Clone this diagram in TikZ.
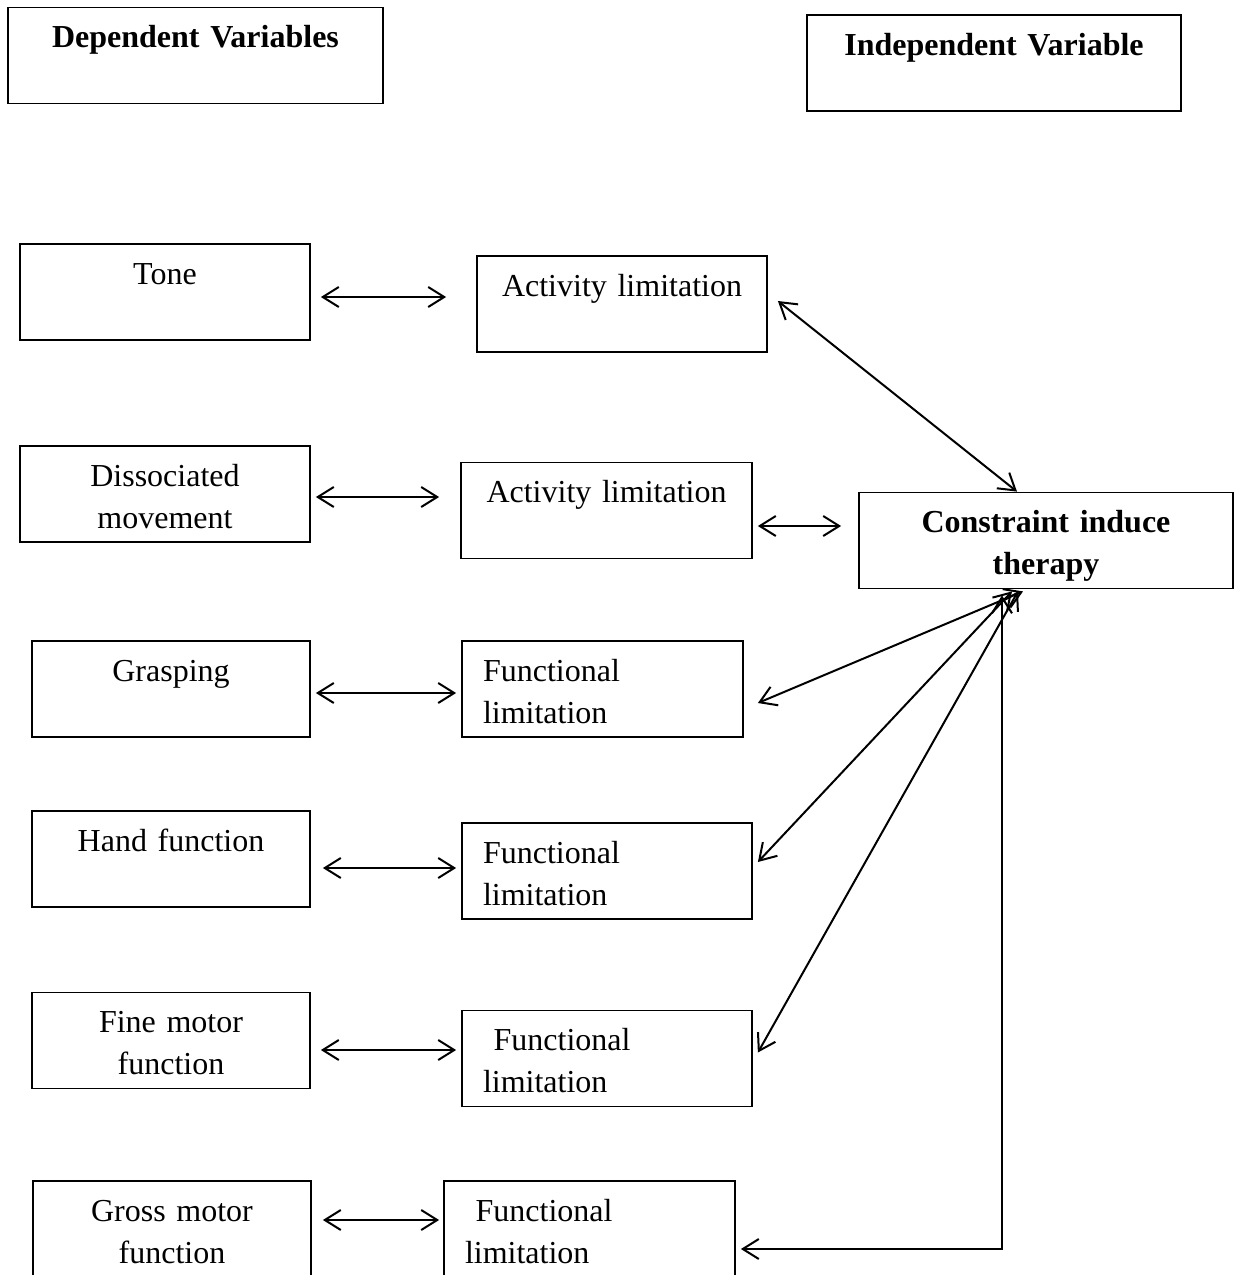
\documentclass[tikz,border=0pt]{standalone}
\usepackage{fontspec}
\setmainfont{Liberation Serif}
\usetikzlibrary{
  arrows.meta,
  calc
}
\newcommand{\boxFont}{\fontsize{16}{21}\selectfont}
\tikzset{
  box/.style={
    draw,
    line width=0.9pt,
    inner sep=0pt,
    text width=#1,
    align=center,
    text height=20pt,
    text depth=28pt,
    font=\boxFont
  }
}
\tikzset{
  headBox/.style={
    box=#1,
    font=\boxFont\bfseries
  }
}
\tikzset{
  limitBox/.style={
    box=#1,
    align=left,
    inner xsep=10.5pt
  }
}
\tikzset{
  link/.style={
    <->,
    line width=1pt
  }
}

\begin{document}
\begin{tikzpicture}[x=0.5pt, y=-0.5pt, >={Straight Barb[length=8pt,width=10pt]}]
    \useasboundingbox (0,0) rectangle (1242,1275);
    % headings
    \node[headBox=187.5pt] (dep) at (195.5,55.5) {Dependent Variables};
    \node[headBox=187pt] (indep) at (994,63) {Independent Variable};
    % dependent variables
    \node[box=145pt] (tone) at (165,292) {Tone};
    \node[box=145pt] (diss) at (165,494) {Dissociated\\movement};
    \node[box=139pt] (grasp) at (171,689) {Grasping};
    \node[box=139pt] (hand) at (171,859) {Hand function};
    \node[box=139pt] (fine) at (171,1040.5) {Fine motor\\function};
    \node[box=139pt] (gross) at (172,1229) {Gross motor\\function};
    % limitations
    \node[box=145pt] (act1) at (622,304) {Activity limitation};
    \node[box=145.5pt] (act2) at (606.5,510.5) {Activity limitation};
    \node[limitBox=119.5pt] (func1) at (602.5,689) {Functional\\limitation};
    \node[limitBox=124pt] (func2) at (607,871) {Functional\\limitation};
    \node[limitBox=124pt] (func3) at (607,1058.5) {\ Functional\\limitation};
    \node[limitBox=124.5pt] (func4) at (589.5,1229) {\ Functional\\limitation};
    % independent variable
    \node[headBox=187pt] (cit) at (1046,540.5) {Constraint induce\\therapy};
    \foreach \src/\dst/\y/\a/\b in {tone/act1/297/5pt/15pt, diss/act2/497/2.5pt/10.5pt,
      grasp/func1/693/2.5pt/2.5pt, hand/func2/868/6pt/2.5pt, fine/func3/1050/5pt/2.5pt,
      gross/func4/1220/5.5pt/2pt, act2/cit/526/2.5pt/8.5pt}{
      \coordinate (lev) at (0,\y);
      \draw[link, shorten <=\a, shorten >=\b]
      (\src.east |- lev) -- (\dst.west |- lev);
    }
    \draw[link] ([shift={(5pt,1.5pt)}]act1.east) -- ([xshift=-14.5pt]cit.north);
    \draw[link] ([shift={(7pt,-7pt)}]func1.east) -- ([shift={(-11.5pt,-1pt)}]cit.south);
    \draw[link] ([shift={(2.5pt,4.5pt)}]func2.east) -- ([shift={(-17pt,-1pt)}]cit.south);
    \draw[link] ([shift={(2.5pt,3pt)}]func3.east) -- ([shift={(-14pt,-1pt)}]cit.south);
    \draw[link] ([shift={(-22pt,-3pt)}]cit.south)
    |- ([shift={(2.5pt,-10pt)}]func4.east);
  \end{tikzpicture}
\end{document}
